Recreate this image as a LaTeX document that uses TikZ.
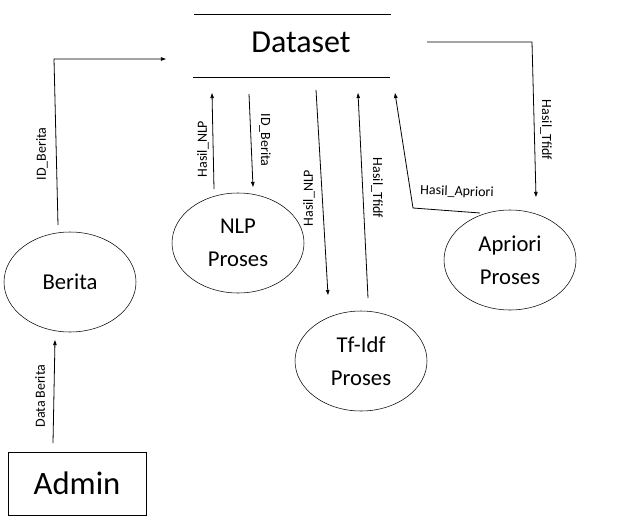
\documentclass[tikz,border=0pt]{standalone}
\usepackage{fontspec}
\setmainfont{Carlito}
\usetikzlibrary{arrows.meta,shapes.geometric}
\tikzset{
  proc/.style={draw, ellipse, minimum width=99pt, minimum height=75pt, inner sep=0pt, align=center, font=\fontsize{17pt}{24.5pt}\selectfont},
  lbl/.style={font=\fontsize{10.5pt}{12pt}\selectfont, inner sep=0pt},
  flow/.style={line width=0.6pt, -{Triangle[length=3.8pt,width=2.6pt]}},
  plain/.style={line width=0.6pt},
}
\begin{document}
\begin{tikzpicture}[x=0.75pt,y=-0.75pt]
\useasboundingbox (0,0) rectangle (623,531);
% data store
\node[font=\fontsize{24pt}{28pt}\selectfont] (ds) at (301,42) {Dataset};
\coordinate (dsTL) at (194,14); \coordinate (dsTR) at (391,14);
\coordinate (dsBL) at (193,77); \coordinate (dsBR) at (390,77);
\draw[plain] (dsTL) -- (dsTR);
\draw[plain] (dsBL) -- (dsBR);
% processes
\node[proc] (berita) at (70,282) {Berita};
\node[proc] (nlp) at (238,243) {NLP\\Proses};
\node[proc] (tfidf) at (361,361) {Tf-Idf\\Proses};
\node[proc] (apriori) at (510,260) {Apriori\\Proses};
% admin
\node[draw, minimum width=103.5pt, minimum height=47.25pt, inner sep=0pt, font=\fontsize{24.5pt}{28pt}\selectfont] (admin) at (77,483.5) {Admin};
% coordinates for connector ends
\coordinate (a1) at (53,443); \coordinate (a2) at (55,340);
\coordinate (b1) at (58,225); \coordinate (b2) at (54,59); \coordinate (b3) at (166,59);
\coordinate (n1) at (214,189); \coordinate (n2) at (212,93);
\coordinate (n3) at (249,94); \coordinate (n4) at (253,187);
\coordinate (t1) at (316,90); \coordinate (t2) at (328,295);
\coordinate (t3) at (368,298); \coordinate (t4) at (358,93);
\coordinate (p1) at (480,213); \coordinate (p2) at (413,208); \coordinate (p3) at (395,93);
\coordinate (r1) at (427,42); \coordinate (r2) at (532,42); \coordinate (r3) at (536,197);
% connectors
\draw[flow] (a1) -- (a2);
\draw[flow] (b1) -- (b2) -- (b3);
\draw[flow] (n1) -- (n2);
\draw[flow] (n3) -- (n4);
\draw[flow] (t1) -- (t2);
\draw[flow] (t3) -- (t4);
\draw[flow] (p1) -- (p2) -- (p3);
\draw[flow] (r1) -- (r2) -- (r3);
% labels
\node[lbl, rotate=90] (la) at (40,396) {Data\,Berita};
\node[lbl, rotate=90] (lb) at (42,154) {ID\_Berita};
\node[lbl, rotate=90] (ln1) at (203,149) {Hasil\_NLP};
\node[lbl, rotate=-90] (ln2) at (265,140) {ID\_Berita};
\node[lbl, rotate=90] (lt1) at (309,198) {Hasil\_NLP};
\node[lbl, rotate=-90] (lt2) at (377,188) {Hasil\_Tfidf};
\node[lbl, rotate=-2] (lp) at (457,192) {Hasil\_Apriori};
\node[lbl, rotate=-90] (lr) at (546,130) {Hasil\_Tfidf};
\end{tikzpicture}
\end{document}
